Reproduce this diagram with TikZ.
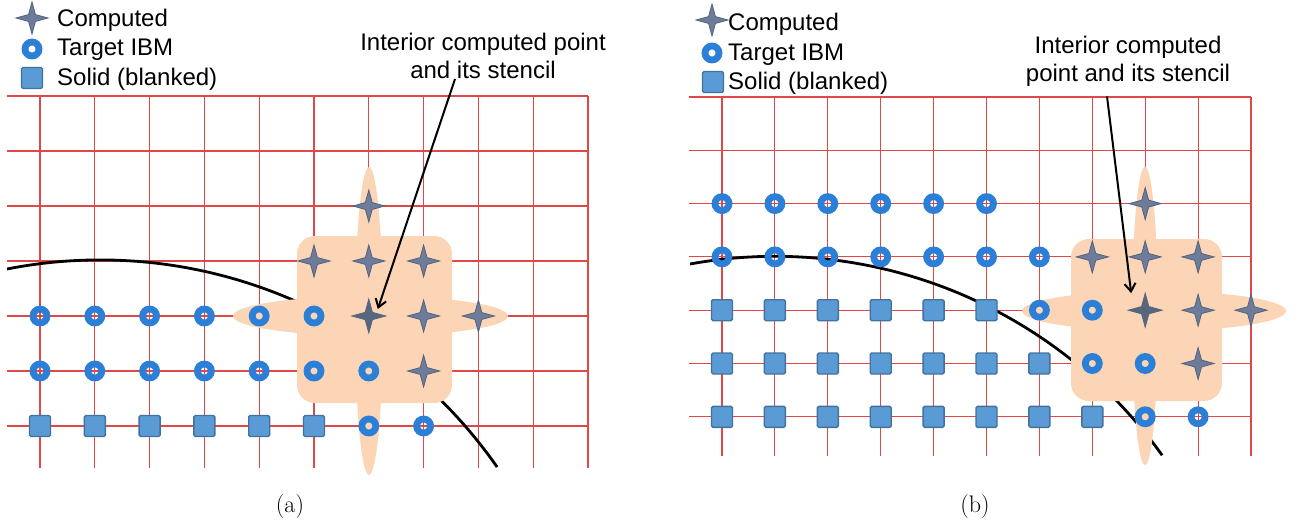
\documentclass[tikz,border=0pt]{standalone}
\usepackage{fontspec}
\newfontfamily\arialfont{Liberation Sans}
\usepackage{xcolor}
\definecolor{gridred}{HTML}{E04848}
\definecolor{stencil}{HTML}{FBD5B5}
\definecolor{starfill}{HTML}{6C7C9A}
\definecolor{stardraw}{HTML}{53637F}
\definecolor{stardark}{HTML}{56667F}
\definecolor{ibmblue}{HTML}{2B7FD6}
\definecolor{solidfill}{HTML}{5B9BD5}
\definecolor{soliddraw}{HTML}{41719C}
\usepackage{tikz}
\usetikzlibrary{arrows.meta,shapes.geometric}
\tikzset{
  gline/.style={draw=gridred, line width=1.1pt},
  wall/.style ={draw=black, line width=2.8pt},
  cpt/.style  ={star, star points=4, star point ratio=3.3, minimum size=32pt,
                inner sep=0pt, fill=starfill, draw=stardraw, line width=0.8pt},
  cptin/.style={cpt, fill=stardark, draw=stardark, minimum size=34pt},
  tgt/.style  ={circle, draw=ibmblue, line width=6.8pt, minimum size=14pt, inner sep=0pt},
  sld/.style  ={rectangle, rounded corners=1.5pt, fill=solidfill, draw=soliddraw,
                line width=1.4pt, minimum size=21pt, inner sep=0pt},
  lgd/.style  ={anchor=west, inner sep=0pt, font=\arialfont\fontsize{24}{28}\selectfont},
  lbl/.style  ={align=center, inner sep=0pt, font=\arialfont\fontsize{24}{28}\selectfont},
  arr/.style  ={-{Straight Barb[length=8pt,width=11pt]}, line width=2pt},
  subcap/.style={font=\fontsize{24}{28}\selectfont},
}

\begin{document}
\begin{tikzpicture}[x=1pt, y=-1pt]
  \useasboundingbox (0,0) rectangle (1307,527);

  % (a) grid, wall and stencil
  \begin{scope}[shift={(40,96)}, x=54.8pt, y=-55pt]
    \foreach \j in {0,...,6} \draw[gline] (-0.6,\j) -- (10,\j);
    \foreach \i in {0,...,10} \draw[gline] (\i,0) -- (\i,6.76);
  \end{scope}
  \draw[wall] (7,269) arc[start angle=-101.1, end angle=-34.9, radius=484];
  \fill[stencil, rounded corners=18pt] (297,236) rectangle (452,403);
  \fill[stencil] (370.5,316) ellipse [x radius=137.5, y radius=20];
  \fill[stencil] (369,321) ellipse [x radius=14, y radius=154];

  \begin{scope}[shift={(40,96)}, x=54.8pt, y=-55pt]
    \foreach \j in {4,5} \foreach \i in {0,...,4}
      \node[tgt] (ta-\i-\j) at (\i,\j) {};
    \foreach \i/\j in {5/4,5/5,6/5,6/6,7/6}
      \node[tgt] (ta-\i-\j) at (\i,\j) {};
    \foreach \i in {0,...,5}
      \node[sld] (sa-\i) at (\i,6) {};
    \foreach \i/\j in {7/4,8/4,7/5,5/3,6/3,7/3,6/2}
      \node[cpt] (ca-\i-\j) at (\i,\j) {};
    \node[cptin] (intA) at (6,4) {};
  \end{scope}

  % (b) grid, wall and stencil
  \begin{scope}[shift={(722,97)}, x=52.9pt, y=-53.3pt]
    \foreach \j in {0,...,6} \draw[gline] (-0.62,\j) -- (10,\j);
    \foreach \i in {0,...,10} \draw[gline] (\i,0) -- (\i,6.74);
  \end{scope}
  \draw[wall] (690,264) arc[start angle=-100.3, end angle=-35.6, radius=476];
  \fill[stencil, rounded corners=18pt] (1071,239) rectangle (1222,401);
  \fill[stencil] (1154,311) ellipse [x radius=132, y radius=20];
  \fill[stencil] (1145,316) ellipse [x radius=13, y radius=149];

  \begin{scope}[shift={(722,97)}, x=52.9pt, y=-53.3pt]
    \foreach \i in {0,...,5} \node[tgt] (tb-\i-2) at (\i,2) {};
    \foreach \i in {0,...,6} \node[tgt] (tb-\i-3) at (\i,3) {};
    \foreach \i/\j in {6/4,7/4,7/5,8/5,8/6,9/6}
      \node[tgt] (tb-\i-\j) at (\i,\j) {};
    \foreach \i in {0,...,5} \node[sld] (sb-\i-4) at (\i,4) {};
    \foreach \i in {0,...,6} \node[sld] (sb-\i-5) at (\i,5) {};
    \foreach \i in {0,...,7} \node[sld] (sb-\i-6) at (\i,6) {};
    \foreach \i/\j in {7/3,8/3,9/3,8/2,9/4,10/4,9/5}
      \node[cpt] (cb-\i-\j) at (\i,\j) {};
    \node[cptin] (intB) at (8,4) {};
  \end{scope}

  % legends
  \node[cpt] (lgcA) at (32,18) {};
  \node[tgt] (lgtA) at (32,49) {};
  \node[sld] (lgsA) at (32,78) {};
  \node[lgd] (lgcAt) at (57,20) {Computed};
  \node[lgd] (lgtAt) at (57,50) {Target IBM};
  \node[lgd] (lgsAt) at (57,79) {Solid (blanked)};

  \node[cpt] (lgcB) at (712,20) {};
  \node[tgt] (lgtB) at (712,53) {};
  \node[sld] (lgsB) at (713,82) {};
  \node[lgd] (lgcBt) at (728,24) {Computed};
  \node[lgd] (lgtBt) at (728,55) {Target IBM};
  \node[lgd] (lgsBt) at (728,83) {Solid (blanked)};

  % labels and arrows
  \node[lbl] (lblA) at (483,56) {Interior computed point\\and its stencil};
  \node[lbl] (lblB) at (1128,61) {Interior computed\\point and its stencil};
  \draw[arr] ([xshift=-28pt]lblA.south) -- ([shift={(9,-7)}]intA.center);
  \draw[arr] ([shift={(-21,10)}]lblB.south) -- ([shift={(-14,-17)}]intB.center);

  \node[subcap] (capA) at (290,507) {(a)};
  \node[subcap] (capB) at (975,507) {(b)};
\end{tikzpicture}
\end{document}
